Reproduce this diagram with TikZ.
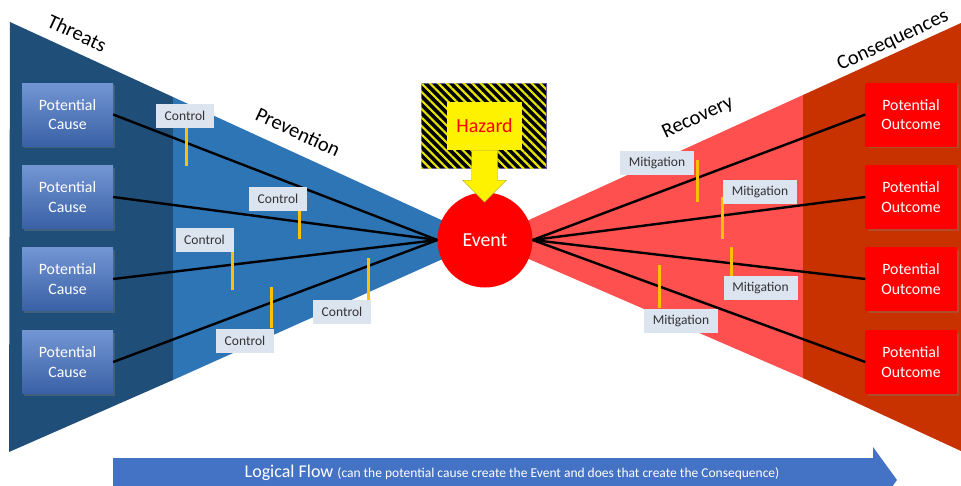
\documentclass[tikz,border=0pt]{standalone}
\usepackage{fontspec}
\setmainfont{Carlito}
\usetikzlibrary{patterns.meta,shadows}

\definecolor{threatblue}{HTML}{1F4E79}
\definecolor{prevblue}{HTML}{2E75B6}
\definecolor{causeblue}{HTML}{4472C4}
\definecolor{recred}{HTML}{FF5050}
\definecolor{conred}{HTML}{C83200}
\definecolor{ctrlgray}{HTML}{DCE4F0}
\definecolor{baryellow}{HTML}{FFC000}

\begin{document}
\begin{tikzpicture}[x = 1pt, y = -1pt,
cause/.style = {rectangle, minimum width = 91pt, minimum height = 63pt, align = center, text = white,
  font = \fontsize{15.8}{19.5}\selectfont, top color = causeblue!75!white, bottom color = causeblue!85!black,
  drop shadow = {opacity = 0.35, shadow xshift = 2pt, shadow yshift = -2pt}},
outcome/.style = {cause, fill = red, top color = red, bottom color = red},
ctrl/.style = {rectangle, fill = ctrlgray, text = black!80, inner sep = 0pt, minimum height = 24pt,
  minimum width = 58pt, font = \fontsize{13.5}{15}\selectfont},
mitig/.style = {ctrl, minimum width = 74pt},
bar/.style = {baryellow, line width = 3pt},
link/.style = {black, line width = 2.4pt},
title/.style = {font = \fontsize{20.5}{24}\selectfont, inner sep = 0pt}]

\useasboundingbox (0,0) rectangle (961,485);
\clip (0,0) rectangle (961,485);

% Bow tie wings
\coordinate (ev) at (485,240);
\fill[threatblue] (10,22) -- (173,97) -- (173,380) -- (9,452) -- cycle;
\fill[prevblue] (173,97) -- (ev) -- (173,380) -- cycle;
\fill[recred] (ev) -- (803,95) -- (803,378) -- cycle;
\fill[conred] (803,95) -- (961,23) -- (961,451) -- (803,378) -- cycle;

% Wing titles
\node[title, rotate = -25] (threats) at (77,33) {Threats};
\node[title, rotate = -25] (prevention) at (298,132) {Prevention};
\node[title, rotate = 25] (recovery) at (698,118) {Recovery};
\node[title, rotate = 25] (consequences) at (893,41) {Consequences};

% Causes and outcomes
\node[cause] (cause-1) at (67.5,114.5) {Potential\\Cause};
\node[cause] (cause-2) at (67.5,197) {Potential\\Cause};
\node[cause] (cause-3) at (67.5,279) {Potential\\Cause};
\node[cause] (cause-4) at (67.5,362) {Potential\\Cause};
\node[outcome] (out-1) at (911,114.5) {Potential\\Outcome};
\node[outcome] (out-2) at (911,197) {Potential\\Outcome};
\node[outcome] (out-3) at (911,279) {Potential\\Outcome};
\node[outcome] (out-4) at (911,362) {Potential\\Outcome};

% Event
\node[circle, fill = red, minimum size = 95pt, text = white, font = \fontsize{19.8}{24}\selectfont] (event) at (ev) {Event};

% Connect causes and outcomes
\draw[link] (cause-1.east) -- (event.west);
\draw[link] (cause-2.east) -- (event.west);
\draw[link] (cause-3.east) -- (event.west);
\draw[link] (cause-4.east) -- (event.west);
\draw[link] (event.east) -- (out-1.west);
\draw[link] (event.east) -- (out-2.west);
\draw[link] (event.east) -- (out-3.west);
\draw[link] (event.east) -- (out-4.west);

% Hazard
\node[rectangle, minimum width = 125pt, minimum height = 85pt, fill = black, draw = gray!70!blue, thin,
  postaction = {pattern = {Lines[angle = -45, distance = 6pt, line width = 2.2pt]}, pattern color = yellow!90!black}]
  (hazard-frame) at (483.5,125.5) {};
\node[rectangle, fill = yellow, minimum width = 75pt, minimum height = 48pt, text = red,
  font = \fontsize{20}{24}\selectfont] (hazard) at (484.5,126) {Hazard};
\fill[yellow, draw = yellow!60!black, thin, shift = {(hazard.south)}]
  (-13,0) -- (-13,30) -- (-22,30) -- (0,52) -- (22,30) -- (13,30) -- (13,0) -- cycle;

% Barriers
\draw[bar] (186,128) -- (186,166);
\draw[bar] (299,211) -- (299,239);
\draw[bar] (232,252) -- (232,290);
\draw[bar] (271,287) -- (271,328);
\draw[bar] (368,258) -- (368,300);
\draw[bar] (697,160) -- (697,202);
\draw[bar] (722,197) -- (722,239);
\draw[bar] (731,247) -- (731,276);
\draw[bar] (659,265) -- (659,308);

\node[ctrl] (ctrl-1) at (185,116) {Control};
\node[ctrl] (ctrl-2) at (278,199) {Control};
\node[ctrl] (ctrl-3) at (204.5,239.5) {Control};
\node[ctrl] (ctrl-4) at (245,340.5) {Control};
\node[ctrl] (ctrl-5) at (342,312) {Control};
\node[mitig] (mitig-1) at (657,163) {Mitigation};
\node[mitig] (mitig-2) at (760,192) {Mitigation};
\node[mitig] (mitig-3) at (760.5,288) {Mitigation};
\node[mitig] (mitig-4) at (681,320.5) {Mitigation};

% Logical flow arrow
\fill[causeblue] (113,458) -- (873,458) -- (873,447) -- (897,480) -- (873,513) -- (873,502) -- (113,502) -- cycle;
\node[text = white, inner sep = 0pt, anchor = base] (flow) at (512,477)
  {\fontsize{18}{22}\selectfont Logical Flow \fontsize{13.5}{16}\selectfont(can the potential cause create the Event and does that create the Consequence)};

\end{tikzpicture}
\end{document}
